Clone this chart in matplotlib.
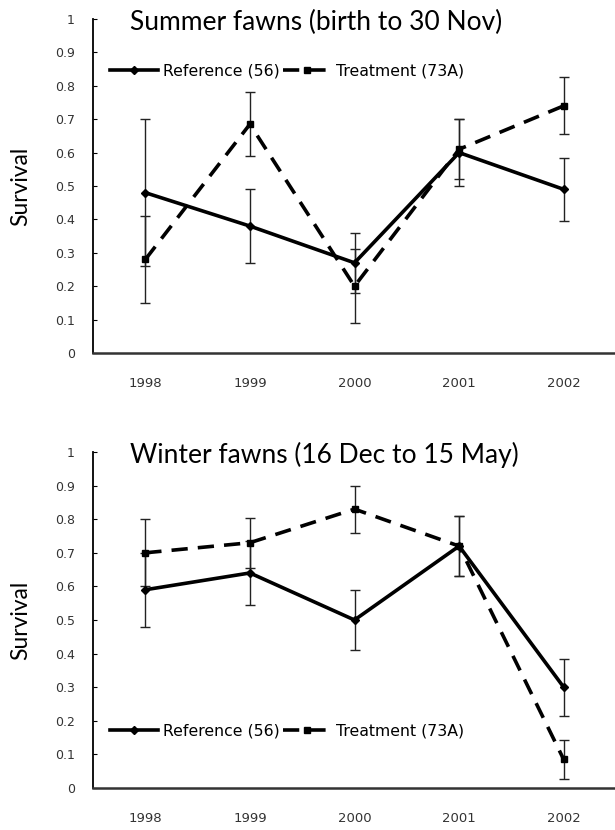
import matplotlib
matplotlib.use("Agg")
import matplotlib.pyplot as plt
import numpy as np

years = ["1998", "1999", "2000", "2001", "2002"]

summer_ref = [0.48, 0.38, 0.27, 0.60, 0.49]
summer_ref_err = [0.22, 0.11, 0.09, 0.10, 0.095]
summer_trt = [0.28, 0.685, 0.20, 0.61, 0.74]
summer_trt_err = [0.13, 0.095, 0.11, 0.09, 0.085]

winter_ref = [0.59, 0.64, 0.50, 0.72, 0.30]
winter_ref_err = [0.11, 0.095, 0.09, 0.09, 0.085]
winter_trt = [0.70, 0.73, 0.83, 0.72, 0.085]
winter_trt_err = [0.10, 0.075, 0.07, 0.09, 0.058]

titles = ["Summer fawns (birth to 30 Nov)", "Winter fawns (16 Dec to 15 May)"]
ref_label = "Reference (56)"
trt_label = "Treatment (73A)"
ylabel = "Survival"
yticks = [0, 0.1, 0.2, 0.3, 0.4, 0.5, 0.6, 0.7, 0.8, 0.9, 1]
ytick_labels = ["0", "0.1", "0.2", "0.3", "0.4", "0.5", "0.6", "0.7", "0.8", "0.9", "1"]

W, H = 615, 830
fig = plt.figure(figsize=(W / 100, H / 100), dpi=100)

def px_axes(left, top, right, bottom):
    return [left / W, 1 - bottom / H, (right - left) / W, (bottom - top) / H]

panels = [
    dict(rect=px_axes(93, 19, 616, 353), ref=summer_ref, ref_err=summer_ref_err,
         trt=summer_trt, trt_err=summer_trt_err, title=titles[0], leg_y=0.845),
    dict(rect=px_axes(93, 452, 616, 788), ref=winter_ref, ref_err=winter_ref_err,
         trt=winter_trt, trt_err=winter_trt_err, title=titles[1], leg_y=0.17),
]

x = np.arange(1, len(years) + 1)
title_font = ["Lato", "DejaVu Sans"]

for p in panels:
    ax = fig.add_axes(p["rect"])
    ax.errorbar(x, p["ref"], yerr=p["ref_err"], fmt="none", ecolor="#222222",
                elinewidth=1.0, capsize=3.5, capthick=1.0, zorder=2)
    ax.errorbar(x, p["trt"], yerr=p["trt_err"], fmt="none", ecolor="#222222",
                elinewidth=1.0, capsize=3.5, capthick=1.0, zorder=2)
    l1, = ax.plot(x, p["ref"], color="black", lw=2.6, marker="D", ms=4.5,
                  label=ref_label, zorder=3)
    l2, = ax.plot(x, p["trt"], color="black", lw=2.6, ls=(0, (4.5, 2.8)),
                  marker="s", ms=4.5, label=trt_label, zorder=3)
    ax.set_xlim(0.5, 5.5)
    ax.set_ylim(0, 1)
    ax.set_xticks(x)
    ax.set_xticklabels(years, fontsize=9.5, color="#333333")
    ax.set_yticks(yticks)
    ax.set_yticklabels(ytick_labels, fontsize=9, color="#333333")
    ax.tick_params(axis="x", length=0, pad=17)
    ax.tick_params(axis="y", direction="in", length=3, width=0.8, pad=13)
    for s in ["top", "right"]:
        ax.spines[s].set_visible(False)
    ax.spines["left"].set_linewidth(1.3)
    ax.spines["bottom"].set_linewidth(1.8)
    ax.spines["bottom"].set_color("#333333")
    ax.set_ylabel(ylabel, fontsize=16.5, family=title_font)
    ax.yaxis.set_label_coords(-0.118, 0.5)
    ax.text(0.071, 0.99, p["title"], transform=ax.transAxes, ha="left",
            va="center", fontsize=19, family=title_font)
    ax.legend(handles=[l1, l2], loc="center left",
              bbox_to_anchor=(0.02, p["leg_y"]), ncol=2, frameon=False,
              fontsize=11.3, handlelength=3.1, handletextpad=0.3,
              columnspacing=0.2, borderaxespad=0, numpoints=1)

fig.savefig("out.png", dpi=100)
